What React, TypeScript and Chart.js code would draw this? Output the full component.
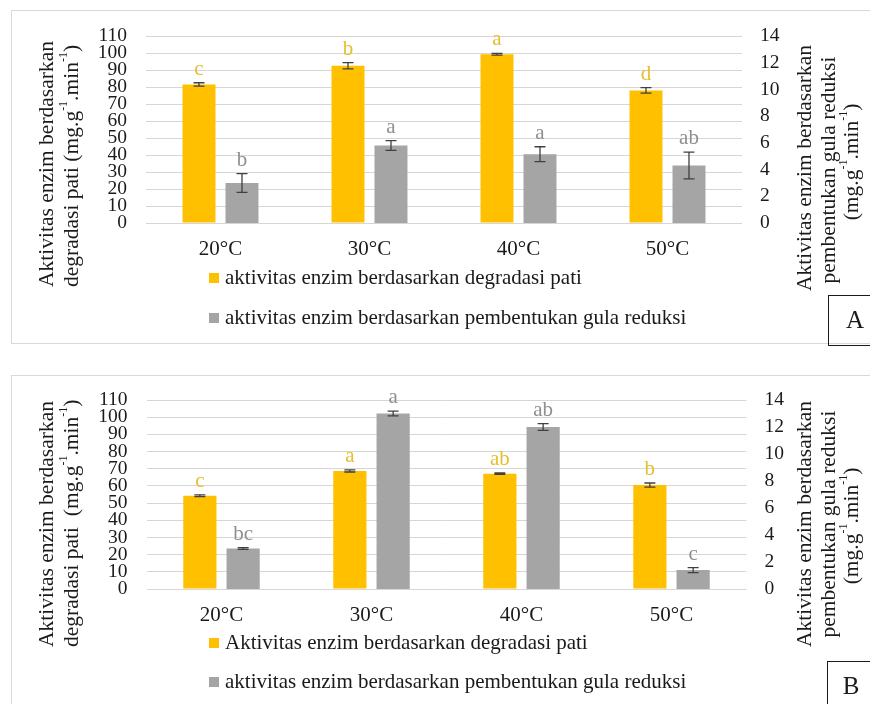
import React, { useEffect, useRef } from 'react';
import { Chart, registerables } from 'chart.js';

Chart.register(...registerables);

const FONT = "'Liberation Serif', 'Times New Roman', serif";

// ---------- data ----------
const categories = ['20°C', '30°C', '40°C', '50°C'];

const leftAxisRange = [0, 110, 10]; // min, max, step (degradasi pati)
const rightAxisRange = [0, 14, 2]; // min, max, step (gula reduksi)

// Panel A
const starchA = [81.5, 92.5, 99.3, 78.0];
const starchErrA = [1.0, 1.8, 0.5, 1.6];
const starchLettersA = ['c', 'b', 'a', 'd'];
const sugarA = [3.0, 5.8, 5.15, 4.3];
const sugarErrA = [0.7, 0.37, 0.56, 1.0];
const sugarLettersA = ['b', 'a', 'a', 'ab'];
const legendA = [
  'aktivitas enzim berdasarkan degradasi pati',
  'aktivitas enzim berdasarkan pembentukan gula reduksi',
];

// Panel B
const starchB = [54.3, 68.7, 67.1, 60.5];
const starchErrB = [0.5, 0.6, 0.4, 1.2];
const starchLettersB = ['c', 'a', 'ab', 'b'];
const sugarB = [3.0, 13.0, 12.0, 1.4];
const sugarErrB = [0.06, 0.17, 0.25, 0.18];
const sugarLettersB = ['bc', 'a', 'ab', 'c'];
const legendB = [
  'Aktivitas enzim berdasarkan degradasi pati',
  'aktivitas enzim berdasarkan pembentukan gula reduksi',
];

// ---------- styles ----------
const ORANGE = '#FFC000';
const GRAY = '#A5A5A5';
const ORANGE_TXT = '#E6BE2E';
const GRAY_TXT = '#8F8F8F';
const TITLE_SIZE = 21.5;

type Seg = { t: string; sup?: boolean };

const unitSegs = (prefix: string): Seg[] => [
  { t: prefix + '(mg.g' },
  { t: '-1', sup: true },
  { t: '.min' },
  { t: '-1', sup: true },
  { t: ')' },
];

function drawRich(ctx: CanvasRenderingContext2D, segs: Seg[], x: number, y: number, size: number, align: 'start' | 'center') {
  const mainFont = `${size}px ${FONT}`;
  const supFont = `${Math.round(size * 0.58)}px ${FONT}`;
  let total = 0;
  const widths = segs.map((s) => {
    ctx.font = s.sup ? supFont : mainFont;
    const w = ctx.measureText(s.t).width;
    total += w;
    return w;
  });
  let cx = align === 'center' ? x - total / 2 : x;
  ctx.textAlign = 'left';
  ctx.textBaseline = 'middle';
  segs.forEach((s, i) => {
    ctx.font = s.sup ? supFont : mainFont;
    ctx.fillText(s.t, cx, s.sup ? y - size * 0.36 : y);
    cx += widths[i];
  });
}

const decorPlugin = {
  id: 'decor',
  beforeDraw(chart: any, _args: any, opts: any) {
    const ctx: CanvasRenderingContext2D = chart.ctx;
    ctx.save();
    ctx.fillStyle = '#ffffff';
    ctx.fillRect(0, 0, chart.width, chart.height);
    ctx.strokeStyle = '#d9d9d9';
    ctx.lineWidth = 1;
    const b = opts.border;
    ctx.strokeRect(b[0], b[1], b[2], b[3]);
    ctx.restore();
  },
  afterDraw(chart: any, _args: any, opts: any) {
    const ctx: CanvasRenderingContext2D = chart.ctx;
    ctx.save();
    // error bars and letters
    chart.data.datasets.forEach((ds: any, di: number) => {
      const meta = chart.getDatasetMeta(di);
      const scale = chart.scales[ds.yAxisID];
      meta.data.forEach((bar: any, i: number) => {
        const v = ds.data[i];
        const e = ds.errors[i];
        const yT = scale.getPixelForValue(v + e);
        const yB = scale.getPixelForValue(v - e);
        const x = bar.x;
        ctx.strokeStyle = '#404040';
        ctx.lineWidth = 1.3;
        ctx.beginPath();
        ctx.moveTo(x, yT);
        ctx.lineTo(x, yB);
        ctx.moveTo(x - 5.5, yT);
        ctx.lineTo(x + 5.5, yT);
        ctx.moveTo(x - 5.5, yB);
        ctx.lineTo(x + 5.5, yB);
        ctx.stroke();
        ctx.fillStyle = ds.letterColor;
        ctx.font = `21px ${FONT}`;
        ctx.textAlign = 'center';
        ctx.textBaseline = 'alphabetic';
        ctx.fillText(ds.letters[i], x, yT - 8);
      });
    });

    // legend (vertical list)
    const lg = opts.legend;
    chart.data.datasets.forEach((ds: any, di: number) => {
      const y = lg.ys[di];
      ctx.fillStyle = ds.backgroundColor;
      ctx.fillRect(lg.x, y - 5, 10, 10);
      ctx.fillStyle = '#1a1a1a';
      ctx.font = `21px ${FONT}`;
      ctx.textAlign = 'left';
      ctx.textBaseline = 'middle';
      ctx.fillText(ds.label, lg.x + 16, y);
    });

    // axis titles
    ctx.fillStyle = '#1a1a1a';
    const lt = opts.leftTitle;
    lt.lines.forEach((segs: Seg[], i: number) => {
      ctx.save();
      ctx.translate(lt.xs[i], lt.start);
      ctx.rotate(-Math.PI / 2);
      drawRich(ctx, segs, 0, 0, TITLE_SIZE, 'start');
      ctx.restore();
    });
    const rt = opts.rightTitle;
    rt.lines.forEach((segs: Seg[], i: number) => {
      ctx.save();
      ctx.translate(rt.xs[i], rt.centers[i]);
      ctx.rotate(-Math.PI / 2);
      drawRich(ctx, segs, 0, 0, TITLE_SIZE, 'center');
      ctx.restore();
    });

    // panel letter box
    const bx = opts.box;
    ctx.strokeStyle = '#1a1a1a';
    ctx.lineWidth = 1;
    ctx.strokeRect(bx[0], bx[1], bx[2], bx[3]);
    ctx.fillStyle = '#1a1a1a';
    ctx.font = `25px ${FONT}`;
    ctx.textAlign = 'center';
    ctx.textBaseline = 'middle';
    ctx.fillText(opts.boxLabel, opts.boxLabelPos[0], opts.boxLabelPos[1]);
    ctx.restore();
  },
};

function makeConfig(p: any) {
  return {
    type: 'bar',
    data: {
      labels: categories,
      datasets: [
        {
          label: p.legend[0],
          data: p.starch,
          errors: p.starchErr,
          letters: p.starchLetters,
          letterColor: ORANGE_TXT,
          backgroundColor: ORANGE,
          yAxisID: 'yL',
          borderWidth: 0,
          categoryPercentage: 0.577,
          barPercentage: 0.767,
        },
        {
          label: p.legend[1],
          data: p.sugar,
          errors: p.sugarErr,
          letters: p.sugarLetters,
          letterColor: GRAY_TXT,
          backgroundColor: GRAY,
          yAxisID: 'yR',
          borderWidth: 0,
          categoryPercentage: 0.577,
          barPercentage: 0.767,
        },
      ],
    },
    options: {
      responsive: false,
      animation: false,
      devicePixelRatio: 1,
      layout: { padding: p.padding },
      plugins: {
        legend: { display: false },
        tooltip: { enabled: false },
        title: { display: false },
        decor: p.decor,
      },
      scales: {
        x: {
          type: 'category',
          grid: { display: false, drawTicks: false },
          border: { display: false },
          ticks: { font: { family: FONT, size: 21, lineHeight: 1.2 }, color: '#1a1a1a', padding: 14 },
          afterFit: (s: any) => { s.height = 40; },
        },
        yL: {
          type: 'linear',
          position: 'left',
          min: leftAxisRange[0],
          max: leftAxisRange[1],
          grid: { color: '#d6d6d6', lineWidth: 1, drawTicks: false },
          border: { display: false },
          ticks: {
            stepSize: leftAxisRange[2],
            autoSkip: false,
            maxTicksLimit: 30,
            font: { family: FONT, size: 19.5, lineHeight: 1 },
            color: '#1a1a1a',
            padding: 19,
          },
          afterFit: (s: any) => { s.width = 50; },
        },
        yR: {
          type: 'linear',
          position: 'right',
          min: rightAxisRange[0],
          max: rightAxisRange[1],
          grid: { display: false, drawTicks: false },
          border: { display: false },
          ticks: {
            stepSize: rightAxisRange[2],
            autoSkip: false,
            maxTicksLimit: 30,
            font: { family: FONT, size: 19.5, lineHeight: 1 },
            color: '#1a1a1a',
            padding: 18,
          },
          afterFit: (s: any) => { s.width = 40; },
        },
      },
    },
    plugins: [decorPlugin],
  };
}

const rightTitleLines: Seg[][] = [
  [{ t: 'Aktivitas enzim berdasarkan' }],
  [{ t: 'pembentukan gula reduksi' }],
  unitSegs(''),
];

const panelA = {
  starch: starchA, starchErr: starchErrA, starchLetters: starchLettersA,
  sugar: sugarA, sugarErr: sugarErrA, sugarLetters: sugarLettersA,
  legend: legendA,
  padding: { top: 36, bottom: 89, left: 96, right: 88 },
  decor: {
    border: [11.5, 10.5, 900, 333],
    box: [828.5, 295.5, 60, 50],
    boxLabel: 'A',
    boxLabelPos: [855, 321],
    legend: { x: 209, ys: [278, 318] },
    leftTitle: {
      xs: [47, 72],
      start: 287,
      lines: [[{ t: 'Aktivitas enzim berdasarkan' }], unitSegs('degradasi pati ')],
    },
    rightTitle: { xs: [805, 829, 852], centers: [168, 170, 162], lines: rightTitleLines },
  },
};

const panelB = {
  starch: starchB, starchErr: starchErrB, starchLetters: starchLettersB,
  sugar: sugarB, sugarErr: sugarErrB, sugarLetters: sugarLettersB,
  legend: legendB,
  padding: { top: 48, bottom: 75, left: 96.5, right: 83.5 },
  decor: {
    border: [11.5, 23.5, 900, 400],
    box: [827.5, 309.5, 60, 60],
    boxLabel: 'B',
    boxLabelPos: [851, 335],
    legend: { x: 209, ys: [291, 330] },
    leftTitle: {
      xs: [47, 72],
      start: 295,
      lines: [[{ t: 'Aktivitas enzim berdasarkan' }], unitSegs('degradasi pati  ')],
    },
    rightTitle: { xs: [805, 829, 852], centers: [172, 172, 174], lines: rightTitleLines },
  },
};

function Panel({ cfg, top }: { cfg: any; top: number }) {
  const ref = useRef<HTMLCanvasElement | null>(null);
  useEffect(() => {
    if (!ref.current) return;
    const chart = new Chart(ref.current, makeConfig(cfg) as any);
    return () => chart.destroy();
  }, [cfg]);
  return (
    <canvas
      ref={ref}
      width={870}
      height={352}
      style={{ position: 'absolute', left: 0, top, width: 870, height: 352, display: 'block' }}
    />
  );
}

export default function App() {
  return (
    <div style={{ position: 'absolute', left: 0, top: 0, width: 870, height: 704, background: '#fff', overflow: 'hidden' }}>
      <Panel cfg={panelA} top={0} />
      <Panel cfg={panelB} top={352} />
    </div>
  );
}
